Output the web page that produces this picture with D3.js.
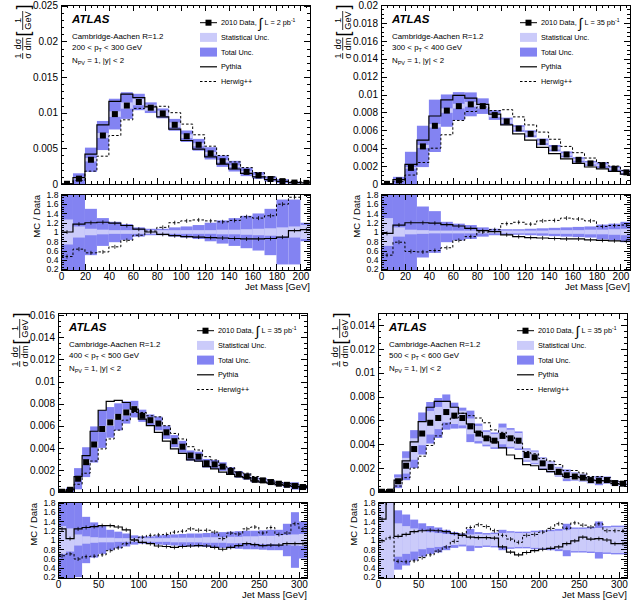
<!DOCTYPE html>
<html>
<head>
<meta charset="utf-8">
<script src="https://cdn.jsdelivr.net/npm/d3@7"></script>
<style>
  body { margin: 0; background: #fff; }
  svg { display: block; }
  text { font-family: "Liberation Sans", Arial, Helvetica, sans-serif; fill: #000; }
</style>
</head>
<body>
<svg id="chart" width="641" height="608"></svg>
<script>
// ---- data (10 GeV jet-mass bins starting at 0) ----
const binWidth = 10;
const ptRanges = [[200, 300], [300, 400], [400, 500], [500, 600]];
const lumiLabels = ["2", "35", "35", "35"];

// 200 < pT < 300 GeV
const p1Data   = [0.00003, 0.00075, 0.0034, 0.0068, 0.0098, 0.0110, 0.0115, 0.0107, 0.0099, 0.0083, 0.0067, 0.0055, 0.0043, 0.0032, 0.0025, 0.0017, 0.0012, 0.0007, 0.0004, 0.0002, 0.00015];
const p1Pythia = [0.00003, 0.0009, 0.0042, 0.0083, 0.0116, 0.0126, 0.0121, 0.0108, 0.0094, 0.0077, 0.0061, 0.0049, 0.0038, 0.0028, 0.0021, 0.0015, 0.001, 0.0006, 0.00036, 0.0002, 0.00016];
const p1Herwig = [0.00002, 0.0005, 0.0018, 0.0039, 0.0068, 0.009, 0.0106, 0.0109, 0.0109, 0.01, 0.0084, 0.0069, 0.0053, 0.004, 0.0031, 0.0023, 0.0016, 0.001, 0.0006, 0.00035, 0.0003];
const p1RatioPythia = [1.0, 1.17, 1.2, 1.21, 1.19, 1.14, 1.06, 1.0, 0.95, 0.92, 0.9, 0.89, 0.88, 0.87, 0.86, 0.85, 0.85, 0.86, 0.89, 1.03, 1.05];
const p1RatioHerwig = [0.47, 0.63, 0.55, 0.57, 0.68, 0.82, 0.93, 1.02, 1.1, 1.2, 1.24, 1.26, 1.24, 1.22, 1.25, 1.33, 1.3, 1.35, 1.6, 1.75, 1.95];
const p1Stat  = [0.27, 0.12, 0.07, 0.05, 0.04, 0.04, 0.04, 0.04, 0.04, 0.04, 0.04, 0.04, 0.04, 0.05, 0.05, 0.06, 0.07, 0.08, 0.1, 0.12, 0.15];
const p1Total = [1.0, 1.0, 0.5, 0.3, 0.22, 0.17, 0.1, 0.07, 0.07, 0.1, 0.12, 0.15, 0.2, 0.25, 0.3, 0.35, 0.4, 0.5, 0.7, 0.7, 0.2];

// 300 < pT < 400 GeV
const p2Data   = [0.00002, 0.0004, 0.0018, 0.0042, 0.0065, 0.0082, 0.0087, 0.0089, 0.0087, 0.0077, 0.007, 0.0062, 0.0056, 0.0047, 0.004, 0.0033, 0.0027, 0.0023, 0.0021, 0.0017, 0.0013];
const p2Pythia = [0.00002, 0.0005, 0.0022, 0.0049, 0.0076, 0.0094, 0.0099, 0.0096, 0.0089, 0.0078, 0.0066, 0.0056, 0.0049, 0.0041, 0.0034, 0.0028, 0.0023, 0.0019, 0.0017, 0.0014, 0.0011];
const p2Herwig = [0.00001, 0.0003, 0.001, 0.0024, 0.004, 0.0055, 0.0071, 0.0081, 0.0086, 0.0082, 0.0083, 0.0075, 0.0066, 0.0058, 0.005, 0.0042, 0.0035, 0.0029, 0.0024, 0.002, 0.0015];
const p2RatioPythia = [0.97, 1.15, 1.2, 1.2, 1.19, 1.16, 1.13, 1.08, 1.03, 1.01, 0.94, 0.9, 0.88, 0.87, 0.86, 0.85, 0.85, 0.83, 0.82, 0.81, 0.8];
const p2RatioHerwig = [0.5, 0.78, 0.58, 0.57, 0.6, 0.66, 0.82, 0.9, 1.0, 1.05, 1.18, 1.21, 1.17, 1.24, 1.25, 1.3, 1.28, 1.24, 1.12, 1.14, 1.15];
const p2Stat  = [0.3, 0.1, 0.05, 0.04, 0.03, 0.03, 0.03, 0.03, 0.03, 0.03, 0.03, 0.03, 0.03, 0.03, 0.04, 0.04, 0.04, 0.05, 0.05, 0.06, 0.07];
const p2Total = [1.0, 1.0, 1.0, 0.55, 0.45, 0.22, 0.18, 0.15, 0.1, 0.07, 0.06, 0.06, 0.07, 0.08, 0.09, 0.1, 0.11, 0.12, 0.16, 0.18, 0.22];

// 400 < pT < 500 GeV
const p3Data   = [0.00002, 0.0002, 0.0012, 0.0027, 0.0043, 0.0057, 0.0063, 0.0068, 0.0072, 0.0075, 0.0069, 0.0065, 0.0062, 0.0054, 0.0046, 0.0041, 0.0033, 0.0032, 0.0026, 0.0025, 0.0023, 0.0019, 0.0016, 0.0014, 0.0011, 0.00105, 0.0009, 0.00075, 0.00065, 0.00055, 0.00045];
const p3Pythia = [0.00002, 0.0002, 0.0014, 0.0033, 0.0055, 0.0074, 0.0082, 0.0083, 0.0081, 0.0075, 0.0066, 0.006, 0.0054, 0.0046, 0.0039, 0.0035, 0.0029, 0.0028, 0.0023, 0.0021, 0.0018, 0.0016, 0.0014, 0.0013, 0.001, 0.0009, 0.0008, 0.00067, 0.0006, 0.0005, 0.0004];
const p3Herwig = [0.00001, 0.00014, 0.0007, 0.0017, 0.0028, 0.0039, 0.0048, 0.0056, 0.0065, 0.0072, 0.0072, 0.0069, 0.0068, 0.006, 0.0053, 0.0048, 0.0041, 0.0038, 0.0032, 0.0029, 0.0024, 0.0022, 0.0018, 0.0017, 0.0014, 0.0012, 0.0011, 0.00085, 0.00075, 0.00072, 0.00056];
const p3RatioPythia = [1.24, 1.03, 1.24, 1.27, 1.29, 1.31, 1.31, 1.28, 1.22, 1.0, 0.95, 0.92, 0.87, 0.86, 0.84, 0.86, 0.87, 0.88, 0.87, 0.84, 0.8, 0.84, 0.88, 0.92, 0.9, 0.88, 0.89, 0.89, 0.92, 0.92, 0.92];
const p3RatioHerwig = [0.66, 0.7, 0.59, 0.64, 0.65, 0.68, 0.77, 0.83, 0.92, 1.0, 1.06, 1.1, 1.11, 1.12, 1.17, 1.19, 1.24, 1.21, 1.21, 1.17, 1.03, 1.15, 1.13, 1.24, 1.28, 1.15, 1.27, 1.12, 1.15, 1.35, 1.24];
const p3Stat  = [0.3, 0.25, 0.12, 0.08, 0.06, 0.05, 0.05, 0.04, 0.04, 0.04, 0.04, 0.04, 0.04, 0.04, 0.05, 0.05, 0.05, 0.05, 0.06, 0.06, 0.06, 0.07, 0.07, 0.08, 0.08, 0.09, 0.09, 0.1, 0.11, 0.12, 0.13];
const p3Total = [1.0, 1.0, 0.8, 0.5, 0.38, 0.3, 0.22, 0.18, 0.14, 0.1, 0.08, 0.08, 0.1, 0.11, 0.12, 0.13, 0.14, 0.14, 0.15, 0.16, 0.17, 0.18, 0.19, 0.2, 0.2, 0.21, 0.22, 0.22, 0.35, 0.6, 0.4];

// 500 < pT < 600 GeV
const p4Data   = [0.00002, 0.00003, 0.0009, 0.0022, 0.0036, 0.0049, 0.0058, 0.0062, 0.0067, 0.0064, 0.0062, 0.0055, 0.0049, 0.0045, 0.0043, 0.0047, 0.0045, 0.0043, 0.0031, 0.0029, 0.0024, 0.0021, 0.0017, 0.0014, 0.0013, 0.0012, 0.001, 0.00095, 0.001, 0.00075, 0.0007];
const p4Pythia = [0.00003, 0.0001, 0.001, 0.0026, 0.0042, 0.0059, 0.0071, 0.0076, 0.0076, 0.0071, 0.0066, 0.0057, 0.005, 0.0046, 0.0042, 0.0037, 0.0031, 0.0028, 0.0023, 0.0022, 0.0019, 0.0017, 0.0015, 0.0013, 0.0013, 0.0012, 0.001, 0.00095, 0.00093, 0.0007, 0.00065];
const p4Herwig = [0.00002, 0.00003, 0.0005, 0.0012, 0.002, 0.003, 0.0039, 0.0047, 0.0057, 0.0062, 0.0066, 0.0064, 0.0062, 0.0058, 0.0052, 0.005, 0.0046, 0.0041, 0.0034, 0.0032, 0.0028, 0.0026, 0.0023, 0.0018, 0.0018, 0.0016, 0.0013, 0.0013, 0.0012, 0.0009, 0.00085];
const p4RatioPythia = [1.45, 1.95, 1.08, 1.12, 1.18, 1.2, 1.21, 1.2, 1.18, 1.14, 1.1, 1.06, 1.05, 1.05, 1.04, 0.85, 0.74, 0.68, 0.73, 0.77, 0.8, 0.82, 0.85, 0.92, 0.98, 1.06, 1.02, 1.03, 1.0, 0.92, 0.92];
const p4RatioHerwig = [0.98, 1.05, 0.54, 0.53, 0.55, 0.62, 0.68, 0.76, 0.85, 0.97, 1.13, 1.27, 1.33, 1.29, 1.2, 1.1, 1.02, 0.95, 1.1, 1.12, 1.17, 1.25, 1.35, 1.25, 1.37, 1.32, 1.28, 1.35, 1.2, 1.2, 1.2];
const p4Stat  = [1.0, 1.0, 0.36, 0.3, 0.25, 0.2, 0.17, 0.15, 0.13, 0.11, 0.1, 0.12, 0.13, 0.12, 0.13, 0.15, 0.16, 0.15, 0.15, 0.17, 0.18, 0.19, 0.2, 0.22, 0.24, 0.24, 0.25, 0.26, 0.27, 0.28, 0.28];
const p4Total = [1.0, 1.0, 0.64, 0.55, 0.44, 0.36, 0.3, 0.27, 0.22, 0.17, 0.14, 0.24, 0.17, 0.15, 0.16, 0.22, 0.19, 0.18, 0.18, 0.2, 0.21, 0.22, 0.24, 0.35, 0.27, 0.27, 0.28, 0.4, 0.3, 0.31, 0.31];

// axis ticks
const massTicksShort = d3.range(0, 201, 20);
const massTicksLong = [0, 50, 100, 150, 200, 250, 300];
const ratioTicks = [0.2, 0.4, 0.6, 0.8, 1, 1.2, 1.4, 1.6, 1.8];

const colTotal = "#8383f2";
const colStat = "#cbcbfa";
const font = "'Liberation Sans', Arial, Helvetica, sans-serif";

const panels = [
  { data: p1Data, pythia: p1Pythia, herwig: p1Herwig, rp: p1RatioPythia, rh: p1RatioHerwig, stat: p1Stat, total: p1Total,
    xMax: 208, yMax: 0.0251, yStep: 0.005, yMinorStep: 0.001, xTicks: massTicksShort, xMinorStep: 5,
    left: 61, right: 310, top: 5, bottom: 184, rTop: 194, rBottom: 270 },
  { data: p2Data, pythia: p2Pythia, herwig: p2Herwig, rp: p2RatioPythia, rh: p2RatioHerwig, stat: p2Stat, total: p2Total,
    xMax: 208, yMax: 0.02, yStep: 0.002, yMinorStep: 0.0005, xTicks: massTicksShort, xMinorStep: 5,
    left: 381, right: 630, top: 5, bottom: 184, rTop: 194, rBottom: 270 },
  { data: p3Data, pythia: p3Pythia, herwig: p3Herwig, rp: p3RatioPythia, rh: p3RatioHerwig, stat: p3Stat, total: p3Total,
    xMax: 310, yMax: 0.0162, yStep: 0.002, yMinorStep: 0.0005, xTicks: massTicksLong, xMinorStep: 10,
    left: 58, right: 307, top: 313, bottom: 492, rTop: 502, rBottom: 578 },
  { data: p4Data, pythia: p4Pythia, herwig: p4Herwig, rp: p4RatioPythia, rh: p4RatioHerwig, stat: p4Stat, total: p4Total,
    xMax: 310, yMax: 0.015, yStep: 0.002, yMinorStep: 0.0005, xTicks: massTicksLong, xMinorStep: 10,
    left: 378, right: 627, top: 313, bottom: 492, rTop: 502, rBottom: 578 }
];

const svg = d3.select("#chart");
const defs = svg.append("defs");

function clean(v, digits) { return String(+v.toFixed(digits)); }

function drawTicks(g, x, y, left, right, top, bottom, xMaj, xMin, yMaj, yMin, xFmt, yFmt, pad, ySize) {
  function one(axis, tr, vals, size, fmt, fs) {
    const a = g.append("g").attr("transform", tr)
      .call(axis.tickValues(vals).tickSizeInner(size).tickSizeOuter(0).tickPadding(pad).tickFormat(fmt || (() => "")));
    a.select(".domain").remove();
    a.attr("font-family", font).attr("font-size", fs || 10);
    a.selectAll("line").attr("stroke", "#000").attr("shape-rendering", "crispEdges");
    a.selectAll("text").attr("fill", "#000");
    return a;
  }
  one(d3.axisBottom(x), `translate(0,${bottom})`, xMin, -3);
  one(d3.axisBottom(x), `translate(0,${bottom})`, xMaj, -6, xFmt);
  one(d3.axisTop(x), `translate(0,${top})`, xMin, -3);
  one(d3.axisTop(x), `translate(0,${top})`, xMaj, -6);
  one(d3.axisLeft(y), `translate(${left},0)`, yMin, -3);
  one(d3.axisLeft(y), `translate(${left},0)`, yMaj, -6, yFmt, ySize);
  one(d3.axisRight(y), `translate(${right},0)`, yMin, -3);
  one(d3.axisRight(y), `translate(${right},0)`, yMaj, -6);
}

function stepPath(bins, x, yv) {
  const pts = bins.map(b => [x(b.lo), yv(b)]);
  const last = bins[bins.length - 1];
  pts.push([x(last.hi), yv(last)]);
  return d3.line().curve(d3.curveStepAfter)(pts);
}

function drawPanel(p, idx) {
  const g = svg.append("g");
  const x = d3.scaleLinear().domain([0, p.xMax]).range([p.left, p.right]);
  const y = d3.scaleLinear().domain([0, p.yMax]).range([p.bottom, p.top]);
  const yr = d3.scaleLinear().domain([0.18, 1.82]).range([p.rBottom, p.rTop]);

  const bins = p.data.map((d, i) => ({
    lo: i * binWidth, hi: (i + 1) * binWidth, data: d,
    pythia: p.pythia[i], herwig: p.herwig[i], rp: p.rp[i], rh: p.rh[i],
    stat: p.stat[i], total: p.total[i]
  }));

  defs.append("clipPath").attr("id", "cm" + idx).append("rect")
    .attr("x", p.left).attr("y", p.top).attr("width", p.right - p.left).attr("height", p.bottom - p.top);
  defs.append("clipPath").attr("id", "cr" + idx).append("rect")
    .attr("x", p.left).attr("y", p.rTop).attr("width", p.right - p.left).attr("height", p.rBottom - p.rTop);

  // ---- main pad ----
  const mg = g.append("g").attr("clip-path", `url(#cm${idx})`);
  [["total", colTotal], ["stat", colStat]].forEach(([k, col]) => {
    mg.append("g").selectAll("rect").data(bins).join("rect")
      .attr("x", b => x(b.lo))
      .attr("width", b => x(b.hi) - x(b.lo))
      .attr("y", b => y(b.data * (1 + b[k])))
      .attr("height", b => y(Math.max(0, b.data * (1 - b[k]))) - y(b.data * (1 + b[k])))
      .attr("fill", col);
  });
  mg.append("path").attr("d", stepPath(bins, x, b => y(b.pythia)))
    .attr("fill", "none").attr("stroke", "#000").attr("stroke-width", 1.2);
  mg.append("path").attr("d", stepPath(bins, x, b => y(b.herwig)))
    .attr("fill", "none").attr("stroke", "#000").attr("stroke-width", 1).attr("stroke-dasharray", "2.5,2");
  mg.append("g").selectAll("rect").data(bins).join("rect")
    .attr("x", b => x((b.lo + b.hi) / 2) - 3)
    .attr("y", b => y(b.data) - 3)
    .attr("width", 6).attr("height", 6).attr("fill", "#000");

  // ---- ratio pad ----
  const rg = g.append("g").attr("clip-path", `url(#cr${idx})`);
  [["total", colTotal], ["stat", colStat]].forEach(([k, col]) => {
    rg.append("g").selectAll("rect").data(bins).join("rect")
      .attr("x", b => x(b.lo))
      .attr("width", b => x(b.hi) - x(b.lo))
      .attr("y", b => yr(1 + b[k]))
      .attr("height", b => yr(1 - b[k]) - yr(1 + b[k]))
      .attr("fill", col);
  });
  rg.append("path").attr("d", stepPath(bins, x, b => yr(b.rp)))
    .attr("fill", "none").attr("stroke", "#000").attr("stroke-width", 1.2);
  rg.append("path").attr("d", stepPath(bins, x, b => yr(b.rh)))
    .attr("fill", "none").attr("stroke", "#000").attr("stroke-width", 1).attr("stroke-dasharray", "2.5,2");
  ["rp", "rh"].forEach(k => {
    rg.append("g").selectAll("line").data(bins).join("line")
      .attr("x1", b => x((b.lo + b.hi) / 2)).attr("x2", b => x((b.lo + b.hi) / 2))
      .attr("y1", b => yr(b[k]) - 2).attr("y2", b => yr(b[k]) + 2)
      .attr("stroke", "#000").attr("stroke-width", 0.8);
  });

  // ---- axes and frames ----
  const xMinor = d3.range(0, p.xMax + 0.01, p.xMinorStep);
  const yMaj = d3.range(0, p.yMax + 1e-9, p.yStep);
  const yMin = d3.range(0, p.yMax + 1e-9, p.yMinorStep);
  const rMin = d3.range(0.2, 1.81, 0.05);
  drawTicks(g, x, y, p.left, p.right, p.top, p.bottom, p.xTicks, xMinor, yMaj, yMin,
    null, d => d === 0 ? "0" : clean(d, 4), 3, 10);
  drawTicks(g, x, yr, p.left, p.right, p.rTop, p.rBottom, p.xTicks, xMinor, ratioTicks, rMin,
    d => String(d), d => clean(d, 1), 2.5, 8.6);

  g.append("rect").attr("x", p.left).attr("y", p.top)
    .attr("width", p.right - p.left).attr("height", p.bottom - p.top)
    .attr("fill", "none").attr("stroke", "#000").attr("stroke-width", 1).attr("shape-rendering", "crispEdges");
  g.append("rect").attr("x", p.left).attr("y", p.rTop)
    .attr("width", p.right - p.left).attr("height", p.rBottom - p.rTop)
    .attr("fill", "none").attr("stroke", "#000").attr("stroke-width", 1).attr("shape-rendering", "crispEdges");

  // axis titles
  g.append("text").attr("x", p.right).attr("y", p.rBottom + 20)
    .attr("text-anchor", "end").attr("font-size", 9.5).text("Jet Mass [GeV]");
  g.append("text").attr("transform", `translate(${p.left - 21},${p.rTop}) rotate(-90)`)
    .attr("x", -1).attr("text-anchor", "end").attr("font-size", 9.5).text("MC / Data");

  const yt = g.append("g").attr("transform", `translate(${p.left - 38.3},${p.top}) rotate(-90)`);
  const frac = (c, num, den, w) => {
    yt.append("text").attr("x", -c).attr("y", -1.3).attr("text-anchor", "middle").attr("font-size", 9.2).text(num);
    yt.append("text").attr("x", -c).attr("y", 8.6).attr("text-anchor", "middle").attr("font-size", 9.2).text(den);
    yt.append("line").attr("x1", -c - w / 2).attr("x2", -c + w / 2).attr("y1", 0).attr("y2", 0)
      .attr("stroke", "#000").attr("stroke-width", 0.8);
  };
  frac(51, "1", "σ", 6);
  frac(39, "dσ", "dm", 13);
  frac(15.5, "1", "GeV", 19);
  yt.append("text").attr("x", -29).attr("y", 6).attr("text-anchor", "middle").attr("font-size", 18).text("[");
  yt.append("text").attr("x", -2).attr("y", 6).attr("text-anchor", "middle").attr("font-size", 18).text("]");

  // ---- labels ----
  const tx = p.left + 11;
  g.append("text").attr("x", tx).attr("y", p.top + 17.5).attr("font-size", 11.5)
    .attr("font-weight", "bold").attr("font-style", "italic").text("ATLAS");
  g.append("text").attr("x", tx).attr("y", p.top + 33.5).attr("font-size", 7.9).text("Cambridge-Aachen R=1.2");
  const pt = g.append("text").attr("x", tx).attr("y", p.top + 45).attr("font-size", 7.9);
  pt.append("tspan").text(`${ptRanges[idx][0]} < p`);
  pt.append("tspan").attr("font-size", 5.5).attr("dy", 1.8).text("T");
  pt.append("tspan").attr("dy", -1.8).text(` < ${ptRanges[idx][1]} GeV`);
  const npv = g.append("text").attr("x", tx).attr("y", p.top + 58).attr("font-size", 7.9);
  npv.append("tspan").text("N");
  npv.append("tspan").attr("font-size", 5.5).attr("dy", 1.8).text("PV");
  npv.append("tspan").attr("dy", -1.8).text(" = 1, |y| < 2");

  // ---- legend ----
  const lx = p.left + 139, ltx = p.left + 160;
  const ly = k => p.top + 17.7 + k * 14.7;
  g.append("line").attr("x1", lx).attr("x2", lx + 17).attr("y1", ly(0)).attr("y2", ly(0)).attr("stroke", "#000");
  g.append("rect").attr("x", lx + 5.5).attr("y", ly(0) - 3).attr("width", 6).attr("height", 6).attr("fill", "#000");
  g.append("rect").attr("x", lx).attr("y", ly(1) - 4.5).attr("width", 17).attr("height", 9).attr("fill", colStat);
  g.append("rect").attr("x", lx).attr("y", ly(2) - 4.5).attr("width", 17).attr("height", 9).attr("fill", colTotal);
  g.append("line").attr("x1", lx).attr("x2", lx + 17).attr("y1", ly(3)).attr("y2", ly(3)).attr("stroke", "#000").attr("stroke-width", 1.2);
  g.append("line").attr("x1", lx).attr("x2", lx + 17).attr("y1", ly(4)).attr("y2", ly(4)).attr("stroke", "#000").attr("stroke-dasharray", "2.5,2");

  const lt = g.append("text").attr("x", ltx).attr("y", ly(0) + 2.6).attr("font-size", 7.3);
  lt.append("tspan").text("2010 Data, ");
  lt.append("tspan").attr("font-size", 14).attr("dy", 2.5).text("∫");
  lt.append("tspan").attr("dy", -2.5).text(` L = ${lumiLabels[idx]} pb`);
  lt.append("tspan").attr("font-size", 5).attr("dy", -3).text("-1");
  ["Statistical Unc.", "Total Unc.", "Pythia", "Herwig++"].forEach((s, k) => {
    g.append("text").attr("x", ltx).attr("y", ly(k + 1) + 2.6).attr("font-size", 7.3).text(s);
  });
}

panels.forEach(drawPanel);
</script>
</body>
</html>
